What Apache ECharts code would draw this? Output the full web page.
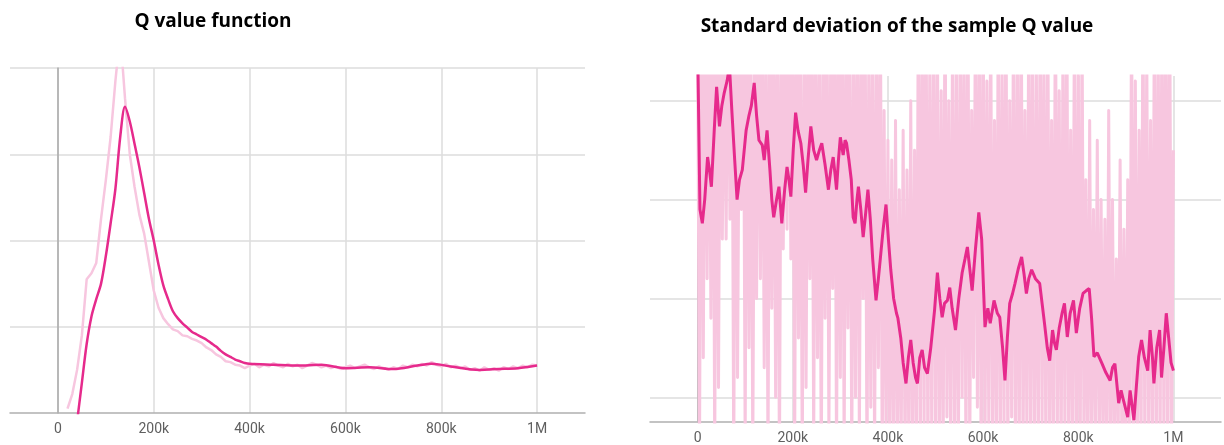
<!DOCTYPE html>
<html>
<head>
<meta charset="utf-8">
<script src="https://cdn.jsdelivr.net/npm/echarts@6/dist/echarts.min.js"></script>
<style>
html,body{margin:0;padding:0;background:#fff;}
#chart{width:1224px;height:445px;}
</style>
</head>
<body>
<div id="chart"></div>
<script>
// ---------- DATA ----------
const titles = ['Q value function', 'Standard deviation of the sample Q value'];
const xTickValues = [0, 200000, 400000, 600000, 800000, 1000000];

// Left chart: Q value (raw, light line) sampled every 10k steps starting at 20k
const qRawSteps = [20000,30000,40000,50000,60000,70000,80000,90000,100000,110000,120000,130000,140000,150000,160000,170000,180000,190000,200000,210000,220000,230000,240000,250000,260000,270000,280000,290000,300000,310000,320000,330000,340000,350000,360000,370000,380000,390000,400000,410000,420000,430000,440000,450000,460000,470000,480000,490000,500000,510000,520000,530000,540000,550000,560000,570000,580000,590000,600000,610000,620000,630000,640000,650000,660000,670000,680000,690000,700000,710000,720000,730000,740000,750000,760000,770000,780000,790000,800000,810000,820000,830000,840000,850000,860000,870000,880000,890000,900000,910000,920000,930000,940000,950000,960000,970000,980000,990000,1000000];
const qRawValues = [0.05,0.22,0.5,0.9,1.55,1.62,1.74,2.25,2.7,3.2,3.85,4.4,3.65,3.0,2.62,2.3,2.08,1.75,1.42,1.22,1.1,1.03,0.97,0.95,0.9,0.89,0.86,0.84,0.81,0.76,0.73,0.68,0.65,0.6,0.59,0.56,0.55,0.52,0.55,0.57,0.53,0.56,0.54,0.58,0.55,0.53,0.57,0.54,0.56,0.52,0.55,0.58,0.56,0.53,0.55,0.52,0.54,0.51,0.53,0.55,0.52,0.54,0.56,0.53,0.51,0.54,0.52,0.5,0.53,0.51,0.55,0.53,0.56,0.54,0.57,0.55,0.59,0.56,0.54,0.57,0.53,0.55,0.52,0.54,0.5,0.52,0.49,0.53,0.5,0.52,0.49,0.53,0.51,0.54,0.52,0.55,0.53,0.56,0.55];

// Left chart: Q value (smoothed, dark line)
const qSmoothSteps = [40000,50000,60000,70000,80000,90000,100000,110000,120000,130000,140000,150000,160000,170000,180000,190000,200000,210000,220000,230000,240000,250000,260000,270000,280000,290000,300000,310000,320000,330000,340000,350000,360000,370000,380000,390000,400000,450000,500000,550000,600000,650000,700000,750000,780000,820000,880000,920000,960000,1000000];
const qSmoothValues = [-0.1,0.35,0.8,1.12,1.32,1.5,1.82,2.2,2.6,3.2,3.55,3.38,3.12,2.85,2.55,2.25,2.0,1.72,1.48,1.32,1.18,1.1,1.04,0.99,0.94,0.91,0.88,0.85,0.81,0.77,0.72,0.68,0.65,0.62,0.6,0.58,0.57,0.56,0.55,0.56,0.52,0.53,0.51,0.55,0.57,0.54,0.5,0.51,0.52,0.55];

// Right chart: std of sample Q (raw, light line), one value every 4k steps from 0 to 1M
const stdRawStepSize = 4000;
const stdRawValues = [
5.0,0.3,5.5,1.4,5.2,2.2,4.8,1.8,5.6,0.4,5.0,1.1,5.3,2.6,4.9,2.6,5.4,2.8,5.1,0.3,5.5,1.2,4.7,2.9,5.2,0.5,
5.6,1.5,5.0,0.4,4.6,2.0,5.3,2.2,5.1,1.3,4.8,0.3,5.4,1.9,4.9,1.0,5.2,0.2,5.0,2.5,4.7,2.7,5.3,2.4,5.0,
0.4,5.5,1.6,4.6,0.3,5.2,1.1,4.9,2.2,5.4,0.5,5.0,1.4,4.7,0.2,5.3,1.8,5.1,0.6,4.8,2.1,5.5,0.3,5.0,1.2,
5.3,0.4,4.9,1.7,5.2,0.3,4.6,1.0,5.4,0.5,4.8,2.0,5.1,0.2,4.7,0.9,5.0,0.4,4.6,1.3,5.3,0.3,3.9,0.6,3.6,
0.3,3.4,0.5,3.8,0.2,3.1,0.6,3.7,0.3,3.3,0.4,4.0,0.2,3.5,0.5,5.2,0.3,4.9,0.6,5.4,0.2,4.4,0.7,5.1,0.3,
4.8,0.4,4.1,0.2,5.3,0.8,4.0,0.3,5.0,0.5,4.3,0.2,5.2,1.0,4.6,0.3,5.4,0.4,3.9,1.2,5.1,0.9,4.7,0.2,5.3,
0.4,4.2,0.7,5.0,0.3,3.8,0.5,5.2,0.2,4.4,0.6,5.3,0.3,4.0,0.8,5.1,0.2,4.5,0.4,5.4,0.3,3.9,0.6,5.0,0.2,
4.9,0.5,4.3,0.3,5.2,0.7,4.6,0.2,5.0,0.4,3.8,0.3,5.3,0.6,4.1,0.2,4.8,0.5,5.1,0.3,3.7,0.4,5.0,0.2,4.4,
0.3,4.8,0.5,3.2,0.2,3.8,0.4,2.9,0.6,3.6,0.3,3.0,0.5,2.8,0.2,3.9,0.4,3.0,0.3,2.4,0.6,3.4,0.2,2.7,0.4,
3.2,0.3,5.0,0.5,4.2,0.2,3.7,0.4,5.2,0.3,4.5,0.6,3.8,0.2,5.1,0.4,4.7,0.3,5.3,0.5,4.9,0.2,5.4,0.4,3.5
];

// Right chart: std of sample Q (smoothed, dark line)
const stdSmoothSteps = [0,5000,10000,15000,21000,25000,29000,35000,40000,46000,51000,56000,62000,67000,72000,78000,83000,88000,94000,98000,102000,108000,113000,119000,124000,129000,136000,140000,146000,152000,156000,160000,166000,171000,174000,177000,183000,188000,192000,196000,201000,206000,211000,217000,222000,227000,232000,238000,244000,250000,256000,261000,268000,275000,280000,285000,289000,292000,296000,300000,306000,310000,313000,318000,323000,327000,331000,335000,338000,343000,348000,353000,358000,363000,368000,375000,380000,385000,390000,396000,401000,406000,412000,418000,421000,427000,432000,438000,443000,448000,453000,458000,462000,467000,472000,477000,483000,490000,498000,504000,509000,514000,519000,525000,530000,535000,542000,549000,556000,562000,567000,572000,577000,584000,591000,597000,604000,610000,615000,623000,630000,635000,641000,646000,651000,656000,662000,667000,674000,681000,686000,691000,696000,702000,710000,719000,724000,729000,735000,740000,746000,750000,754000,760000,766000,771000,777000,783000,790000,796000,803000,810000,817000,823000,828000,833000,840000,850000,858000,867000,872000,877000,885000,890000,896000,904000,909000,917000,922000,927000,933000,939000,946000,951000,956000,959000,965000,971000,975000,980000,985000,990000,995000,1000000];
const stdSmoothValues = [4.6,2.9,2.76,3.0,3.43,3.3,3.13,3.7,4.14,3.74,3.95,4.08,4.2,4.35,3.9,3.4,3.0,3.2,3.3,3.5,3.7,3.85,3.95,4.18,3.85,3.6,3.55,3.4,3.7,3.3,3.0,2.82,3.0,3.13,2.95,2.76,3.1,3.33,3.2,3.03,3.5,3.88,3.7,3.57,3.35,3.07,3.4,3.74,3.5,3.4,3.5,3.57,3.35,3.1,3.3,3.43,3.25,3.1,3.4,3.63,3.45,3.6,3.57,3.4,3.2,2.82,2.76,3.0,3.13,2.9,2.62,2.85,3.1,2.8,2.4,1.98,2.2,2.45,2.7,2.95,2.6,2.29,2.0,1.85,1.8,1.6,1.35,1.14,1.4,1.58,1.35,1.2,1.14,1.4,1.48,1.3,1.24,1.5,1.88,2.26,2.0,1.81,1.95,1.98,2.11,1.9,1.68,2.0,2.26,2.4,2.52,2.3,2.08,2.5,2.87,2.6,1.71,1.9,1.75,1.98,1.85,1.81,1.5,1.17,1.6,1.95,2.05,2.15,2.3,2.42,2.25,2.05,2.2,2.29,2.2,2.15,1.95,1.75,1.5,1.37,1.68,1.55,1.48,1.7,1.85,1.95,1.61,1.85,1.98,1.65,1.9,2.05,2.08,2.1,1.8,1.41,1.45,1.34,1.25,1.17,1.3,1.34,0.94,1.07,0.95,0.8,1.07,0.77,1.1,1.41,1.58,1.4,1.27,1.68,1.4,1.14,1.5,1.68,1.2,1.5,1.85,1.6,1.35,1.27];

// ---------- BUILD ----------
function zip(xs, ys) { return xs.map((x, i) => [x, ys[i]]); }
const stdRawData = stdRawValues.map((v, i) => [i * stdRawStepSize, v]);

const DARK = '#e62a8c';
const LIGHT = '#f7c6df';
const GRID = '#dcdcdc';
const AXIS = '#b0b0b0';

function fmt(v) {
  if (v === 0) return '0';
  if (v % 200000 !== 0) return '';
  if (v >= 1000000) return (v / 1000000) + 'M';
  return (v / 1000) + 'k';
}

function xAxisDef(gridIndex) {
  return {
    type: 'value', gridIndex, min: -100000, max: 1100000, interval: 100000,
    axisLine: { show: true, onZero: false, lineStyle: { color: AXIS, width: 1.5 } },
    axisTick: { show: false },
    splitLine: { show: false },
    axisLabel: { formatter: fmt, color: '#5f5f5f', fontSize: 14, fontFamily: 'Roboto', margin: 9 }
  };
}

function gridSeries(xi, yi, hValues) {
  const data = [];
  hValues.forEach(v => data.push({ yAxis: v, lineStyle: { color: GRID, width: 1.5, type: 'solid' } }));
  xTickValues.forEach(v => data.push({ xAxis: v, lineStyle: { color: v === 0 ? '#bdbdbd' : GRID, width: 1.5, type: 'solid' } }));
  return {
    type: 'line', xAxisIndex: xi, yAxisIndex: yi, data: [], zlevel: 0, z: 0, silent: true,
    markLine: { zlevel: 0, z: 0, silent: true, symbol: 'none', label: { show: false }, animation: false, data }
  };
}

const titleStyle = { fontFamily: 'Open Sans', fontWeight: 'bold', fontSize: 19, color: '#000' };

const option = {
  animation: false,
  backgroundColor: '#fff',
  title: [
    { text: titles[0], left: 208, top: 7, textAlign: 'center', textStyle: titleStyle },
    { text: titles[1], left: 892, top: 12, textAlign: 'center', textStyle: titleStyle }
  ],
  grid: [
    { left: 10, top: 68, width: 575, height: 345, containLabel: false },
    { left: 650, top: 76, width: 574, height: 346, containLabel: false }
  ],
  xAxis: [xAxisDef(0), xAxisDef(1)],
  yAxis: [
    { type: 'value', gridIndex: 0, min: 0, max: 4,
      axisLine: { show: true, lineStyle: { color: AXIS, width: 1.5 } },
      axisTick: { show: false }, axisLabel: { show: false }, splitLine: { show: false } },
    { type: 'value', gridIndex: 1, min: 0.75, max: 4.25,
      axisLine: { show: true, lineStyle: { color: AXIS, width: 1.5 } },
      axisTick: { show: false }, axisLabel: { show: false }, splitLine: { show: false } }
  ],
  series: [
    gridSeries(0, 0, [1, 2, 3, 4]),
    gridSeries(1, 1, [1, 2, 3, 4]),
    { type: 'line', xAxisIndex: 0, yAxisIndex: 0, data: zip(qRawSteps, qRawValues), showSymbol: false, zlevel: 1, z: 2,
      lineStyle: { color: LIGHT, width: 2.5 }, clip: true },
    { type: 'line', xAxisIndex: 0, yAxisIndex: 0, data: zip(qSmoothSteps, qSmoothValues), showSymbol: false, zlevel: 1, z: 3, smooth: 0.3,
      lineStyle: { color: DARK, width: 2.5 }, clip: true },
    { type: 'line', xAxisIndex: 1, yAxisIndex: 1, data: stdRawData, showSymbol: false, zlevel: 1, z: 2,
      lineStyle: { color: LIGHT, width: 3, join: 'round' }, clip: true },
    { type: 'line', xAxisIndex: 1, yAxisIndex: 1, data: zip(stdSmoothSteps, stdSmoothValues), showSymbol: false, zlevel: 1, z: 3,
      lineStyle: { color: DARK, width: 3 }, clip: true }
  ]
};

const chart = echarts.init(document.getElementById('chart'), null, { renderer: 'canvas' });
chart.setOption(option);
</script>
</body>
</html>
